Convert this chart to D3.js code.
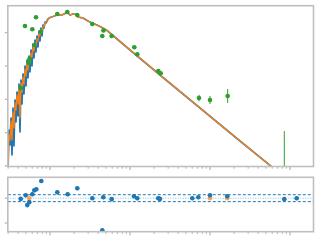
<!DOCTYPE html>
<html><head><meta charset="utf-8">
<script src="https://cdn.jsdelivr.net/npm/d3@7"></script>
<style>body{margin:0;background:#fff}svg{display:block}</style>
</head><body>
<svg id="c" width="320" height="240"></svg>
<script>
// Spectrum (wavelength, observed data = blue, model = orange)
const specWave = [0.2985,0.3073,0.3162,0.3255,0.3350,0.3447,0.3548,0.3652,0.3758,0.3868,0.3981,0.4097,0.4217,0.4340,0.4467,0.4597,0.4732,0.4870,0.5012,0.5158,0.5309,0.5464,0.5623,0.5788,0.5957,0.6131,0.6310,0.6494,0.6683,0.6879,0.7079,0.7286,0.7499,0.7718,0.7943,0.8175,0.8414,0.8660,0.8913,
  0.9441,1.0,1.090,1.223,1.413,1.540,1.631,1.778,1.939,2.114,2.239,2.585,2.985,3.350,3.868,4.467,5.158,5.623,10,23.71,74.99,237.1,595.7,866];
const specData = [0.661,12.02,4.266,27.55,2.138,54.96,3.981,95.5,20.89,166.0,31.62,288.4,10.47,380.2,72.45,575.5,144.6,1000,251.2,1514,436.5,1995,660.7,3020,1000,4571,1738,6025,2630,7943,3715,11220,5623,13800,7943,16980,13800,20890,19500,
  25710,28510,30550,33880,33880,37580,41690,33880,36310,35080,29510,27550,22390,19500,16980,14290,11610,9772,3020,537.0,54.96,5.623,0.933,0.449];
const specModel = [0.759,8.511,6.025,22.39,6.025,41.69,13.80,77.63,47.86,134.9,72.45,218.8,27.55,309.1,166.0,467.7,288.4,812.8,501.2,1230,758.5,1622,1230,2455,1863,3715,2818,4898,3981,6457,5623,9120,7943,12020,11220,14790,14790,19500,20890,
  25710,28510,30550,33880,33880,37580,41690,33880,36310,35080,29510,27550,22390,19500,16980,14290,11610,9772,3020,537.0,54.96,5.623,0.933,0.449];

// Photometry (green)
const photWave = [0.4305,0.487,0.601,0.668,0.637,0.765,0.542,0.554,1.234,1.645,2.194,3.38,4.506,4.66,5.90,11.32,12.33,22.58,24.19,72.86,100,166.4];
const photFlux = [218.8,15850,12620,28910,4266,10690,1230,1622,36310,41690,33880,18200,7943,11610,7943,3640,2244,707.9,604,109.6,95.5,125.9];
const photYErrDex = [0.08,0.04,0.04,0.04,0.04,0.04,0.05,0.05,0.03,0.03,0.03,0.03,0.03,0.03,0.03,0.03,0.03,0.03,0.03,0.10,0.12,0.21];
const photXErrDex = [0.025,0.025,0.025,0.025,0.025,0.025,0.025,0.025,0.025,0.025,0.025,0.025,0.025,0.025,0.025,0.025,0.025,0.025,0.025,0.025,0.025,0.025];
const limWave = [849];
const limLow = [0.3];
const limHigh = [11.22];

// Residuals
const resWave = [0.4305,0.497,0.520,0.551,0.601,0.637,0.674,0.778,1.234,1.664,2.194,3.38,4.506,4.64,5.90,11.22,12.33,22.58,23.71,60.1,71.4,100,164.5,849,1213];
const resVal = [-0.03,0.12,-0.28,-0.16,0.16,0.32,0.36,0.69,0.24,0.16,0.40,0,-1.30,0.04,-0.04,0.08,0,0,-0.03,0,0.04,0.12,0.08,-0.04,0];
const resModelWave = [0.551,100,164.5];
const resModelVal = [0,0,0];
const resBand = [-0.14,0.14];

const xMajorTicks = [1,10,100,1000];
const yMajorTicks = [1,10,100,1000,10000];
const resTicks = [-1,0];

const svg = d3.select("#c");
const x = d3.scaleLog().domain([0.2969,1967]).range([7.8,313.5]);
const y = d3.scaleLog().domain([1,63096]).range([166,6]);
const yr = d3.scaleLinear().domain([-1.352,0.842]).range([231.7,177.3]);

const C = {blue:"#1f77b4", orange:"#ff7f0e", green:"#2ca02c", frame:"#bfbfbf", tick:"#b0b0b0"};

const defs = svg.append("defs");
defs.append("clipPath").attr("id","cm").append("rect").attr("x",7.8).attr("y",6).attr("width",305.7).attr("height",160);
defs.append("clipPath").attr("id","cr").append("rect").attr("x",7.8).attr("y",177.3).attr("width",305.7).attr("height",54.4);

// main panel
const gm = svg.append("g").attr("clip-path","url(#cm)");
const line = d3.line().x(d=>x(d[0])).y(d=>y(d[1]));
gm.append("path").attr("d", line(specWave.map((w,i)=>[w,specData[i]])))
  .attr("fill","none").attr("stroke",C.blue).attr("stroke-width",1.7).attr("stroke-linejoin","round");
gm.append("path").attr("d", line(specWave.map((w,i)=>[w,specModel[i]])))
  .attr("fill","none").attr("stroke",C.orange).attr("stroke-width",1.3).attr("stroke-linejoin","round");

photWave.forEach((w,i)=>{
  const f = photFlux[i], e = photYErrDex[i], ex = photXErrDex[i];
  gm.append("line").attr("x1",x(w)).attr("x2",x(w))
    .attr("y1",y(f*Math.pow(10,-e))).attr("y2",y(f*Math.pow(10,e)))
    .attr("stroke",C.green).attr("stroke-width",1);
  gm.append("line").attr("x1",x(w*Math.pow(10,-ex))).attr("x2",x(w*Math.pow(10,ex)))
    .attr("y1",y(f)).attr("y2",y(f)).attr("stroke",C.green).attr("stroke-width",1);
  gm.append("circle").attr("cx",x(w)).attr("cy",y(f)).attr("r",2.3).attr("fill",C.green);
});
limWave.forEach((w,i)=>{
  gm.append("line").attr("x1",x(w)).attr("x2",x(w)).attr("y1",y(limLow[i])).attr("y2",y(limHigh[i]))
    .attr("stroke",C.green).attr("stroke-width",1);
});

// residual panel
const gr = svg.append("g").attr("clip-path","url(#cr)");
resBand.forEach(v=>{
  gr.append("line").attr("x1",7.8).attr("x2",313.5).attr("y1",yr(v)).attr("y2",yr(v))
    .attr("stroke",C.blue).attr("stroke-width",1).attr("stroke-dasharray","3,2");
});
gr.append("line").attr("x1",7.8).attr("x2",313.5).attr("y1",yr(0)).attr("y2",yr(0))
  .attr("stroke","#8fb8da").attr("stroke-width",1).attr("stroke-dasharray","1,1.5");
resModelWave.forEach((w,i)=>{
  gr.append("circle").attr("cx",x(w)).attr("cy",yr(resModelVal[i])).attr("r",2.3).attr("fill",C.orange).attr("opacity",0.7);
});
resWave.forEach((w,i)=>{
  const cy = yr(resVal[i]);
  gr.append("line").attr("x1",x(w)-2).attr("x2",x(w)+2).attr("y1",cy).attr("y2",cy).attr("stroke",C.blue).attr("stroke-width",1);
  gr.append("line").attr("x1",x(w)).attr("x2",x(w)).attr("y1",cy-2).attr("y2",cy+2).attr("stroke",C.blue).attr("stroke-width",1);
  gr.append("circle").attr("cx",x(w)).attr("cy",cy).attr("r",2.3).attr("fill",C.blue);
});

// ticks
function xTicks(yPos){
  const g = svg.append("g");
  for(let n=-1;n<=3;n++){
    for(let k=1;k<=9;k++){
      const v = k*Math.pow(10,n);
      if(v < x.domain()[0] || v > x.domain()[1]) continue;
      const major = xMajorTicks.includes(v);
      g.append("line").attr("x1",x(v)).attr("x2",x(v)).attr("y1",yPos).attr("y2",yPos+(major?3.5:2.2))
        .attr("stroke",C.tick).attr("stroke-width",major?1.2:1);
    }
  }
}
xTicks(166.5);
xTicks(231.7);
yMajorTicks.forEach(v=>{
  svg.append("line").attr("x1",7.8).attr("x2",4.8).attr("y1",y(v)).attr("y2",y(v)).attr("stroke",C.tick).attr("stroke-width",1.2);
});
resTicks.forEach(v=>{
  svg.append("line").attr("x1",7.8).attr("x2",4.8).attr("y1",yr(v)).attr("y2",yr(v)).attr("stroke",C.tick).attr("stroke-width",1.2);
});

// frames
svg.append("rect").attr("x",7.8).attr("y",5.7).attr("width",305.7).attr("height",160.8)
  .attr("fill","none").attr("stroke",C.frame).attr("stroke-width",1.6);
svg.append("rect").attr("x",7.8).attr("y",177.3).attr("width",305.7).attr("height",54.4)
  .attr("fill","none").attr("stroke",C.frame).attr("stroke-width",1.6);
</script>
</body></html>
